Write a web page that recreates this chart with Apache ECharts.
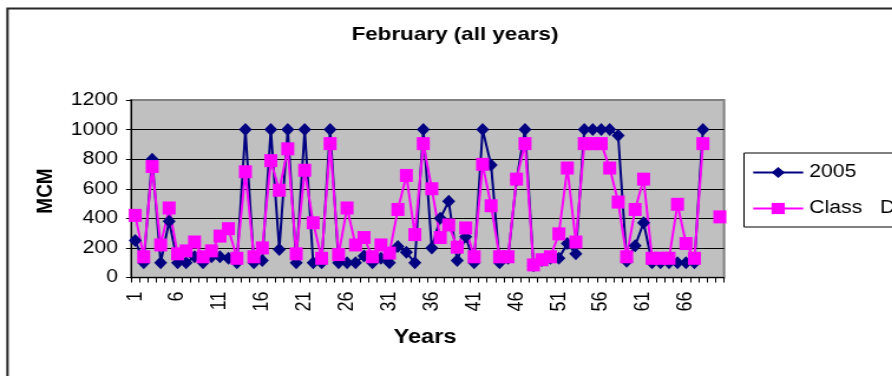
<!DOCTYPE html>
<html>
<head>
<meta charset="utf-8">
<title>February (all years)</title>
<script src="https://cdn.jsdelivr.net/npm/echarts@6/dist/echarts.min.js"></script>
<style>
  html, body { margin: 0; padding: 0; background: #fff; overflow: hidden; }
  #wrap { width: 892px; height: 376px; overflow: hidden; position: relative; }
  #chart { height: 376px; transform-origin: 0 0; }
</style>
</head>
<body>
<div id="wrap"><div id="chart"></div></div>
<script>
// Year index along the x axis
const years = [
  '1','2','3','4','5','6','7','8','9','10',
  '11','12','13','14','15','16','17','18','19','20',
  '21','22','23','24','25','26','27','28','29','30',
  '31','32','33','34','35','36','37','38','39','40',
  '41','42','43','44','45','46','47','48','49','50',
  '51','52','53','54','55','56','57','58','59','60',
  '61','62','63','64','65','66','67','68','69','70'
];

// February flow, MCM
const flow2005 = [
  250, 100, 800, 100, 380, 100, 100, 140, 100, 140,
  140, 130, 100, 1000, 100, 115, 1000, 190, 1000, 100,
  1000, 100, 100, 1000, 100, 100, 100, 145, 100, 130,
  100, 210, 170, 100, 1000, 200, 400, 515, 115, 275,
  100, 1000, 760, 100, 130, 660, 1000, 80, 115, 130,
  130, 230, 160, 1000, 1000, 1000, 1000, 960, 110, 215,
  370, 100, 100, 100, 100, 100, 100, 1000, null, null
];

const flowClassD = [
  420, 140, 750, 220, 470, 160, 180, 240, 140, 180,
  280, 330, 130, 715, 140, 200, 790, 590, 870, 160,
  725, 370, 130, 905, 155, 470, 220, 270, 140, 220,
  165, 460, 690, 290, 905, 600, 270, 355, 205, 335,
  140, 765, 485, 140, 140, 665, 905, 85, 120, 140,
  295, 740, 240, 905, 905, 905, 740, 510, 140, 460,
  665, 130, 130, 130, 495, 230, 130, 905, null, 410
];

// Value axis ticks
const yTicks = { min: 0, max: 1200, step: 200 };

const seriesNames = ['2005', 'Class   D'];

// The drawing is laid out in page pixels and widened horizontally by S.
const S = 1.18;
const W = 892, H = 376;
const sx = x => x / S;

const chartEl = document.getElementById('chart');
chartEl.style.width = (W / S) + 'px';
chartEl.style.transform = 'scaleX(' + S + ')';

const FONT = '"Liberation Sans", Arial, Helvetica, sans-serif';

const plot = { left: 131, right: 724, top: 100, bottom: 277.5 };

const chart = echarts.init(chartEl, null, { renderer: 'canvas' });

chart.setOption({
  animation: false,
  backgroundColor: '#ffffff',
  textStyle: { fontFamily: FONT },
  grid: {
    left: sx(plot.left),
    right: (W - plot.right) / S,
    top: plot.top,
    bottom: H - plot.bottom,
    containLabel: false,
    outerBoundsMode: 'none',
    show: true,
    backgroundColor: '#C0C0C0',
    borderColor: '#808080',
    borderWidth: 2
  },
  xAxis: {
    type: 'category',
    data: years,
    boundaryGap: true,
    axisLine: { show: true, lineStyle: { color: '#000', width: 1 } },
    axisTick: { show: true, interval: 0, alignWithLabel: false, length: 5, lineStyle: { color: '#000' } },
    axisLabel: {
      interval: 4,
      rotate: 90,
      margin: 14,
      fontSize: 18,
      color: '#000',
      fontFamily: FONT
    },
    splitLine: { show: false }
  },
  yAxis: {
    type: 'value',
    min: yTicks.min,
    max: yTicks.max,
    interval: yTicks.step,
    axisLine: { show: true, lineStyle: { color: '#000', width: 1 } },
    axisTick: { show: true, inside: false, length: sx(5), lineStyle: { color: '#000' } },
    axisLabel: {
      margin: sx(13),
      fontSize: 18,
      color: '#000',
      fontFamily: FONT,
      formatter: v => String(v)
    },
    splitLine: {
      show: true,
      lineStyle: {
        color: ['#000', '#000', '#000', '#000', '#000', '#000', '#808080'],
        width: 1
      }
    }
  },
  legend: {
    orient: 'vertical',
    left: sx(744),
    top: 153,
    data: seriesNames,
    selectedMode: false,
    itemWidth: sx(50),
    itemHeight: 14,
    itemGap: 17,
    padding: [10, sx(40), 9, sx(8)],
    borderColor: '#000',
    borderWidth: 1,
    backgroundColor: '#fff',
    textStyle: { fontSize: 18, lineHeight: 19, color: '#000', fontFamily: FONT }
  },
  graphic: [
    {
      type: 'rect',
      silent: true,
      z: -10,
      shape: { x: sx(7.5), y: 8.5, width: (W + 40) / S, height: H + 40 },
      style: { fill: 'none', stroke: '#262626', lineWidth: 2 }
    },
    {
      type: 'text',
      silent: true,
      x: sx(455),
      y: 35,
      style: {
        text: 'February (all years)',
        font: 'bold 19px ' + FONT,
        fill: '#000',
        align: 'center',
        verticalAlign: 'middle'
      }
    },
    {
      type: 'text',
      silent: true,
      x: sx(46),
      y: 191,
      rotation: Math.PI / 2,
      style: {
        text: 'MCM',
        font: 'bold 19px ' + FONT,
        fill: '#000',
        align: 'center',
        verticalAlign: 'middle'
      }
    },
    {
      type: 'text',
      silent: true,
      x: sx(425),
      y: 337,
      style: {
        text: 'Years',
        font: 'bold 20px ' + FONT,
        fill: '#000',
        align: 'center',
        verticalAlign: 'middle'
      }
    }
  ],
  series: [
    {
      name: seriesNames[0],
      type: 'line',
      data: flow2005,
      symbol: 'diamond',
      symbolSize: [sx(13), 13],
      showSymbol: true,
      showAllSymbol: true,
      connectNulls: false,
      lineStyle: { color: '#000080', width: 2 },
      itemStyle: { color: '#000080' },
      emphasis: { disabled: true }
    },
    {
      name: seriesNames[1],
      type: 'line',
      data: flowClassD,
      symbol: 'rect',
      symbolSize: [sx(13), 13],
      showSymbol: true,
      showAllSymbol: true,
      connectNulls: false,
      lineStyle: { color: '#FF00FF', width: 2 },
      itemStyle: { color: '#FF00FF' },
      emphasis: { disabled: true }
    }
  ]
});
</script>
</body>
</html>
